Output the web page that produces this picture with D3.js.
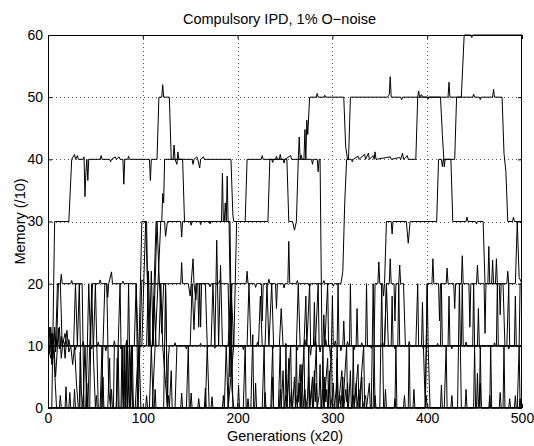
<!DOCTYPE html>
<html><head><meta charset="utf-8">
<script src="https://cdn.jsdelivr.net/npm/d3@7"></script>
<style>
body{margin:0;background:#fff}
svg text{font-family:"Liberation Sans",Arial,Helvetica,sans-serif;fill:#000}
</style></head><body>
<svg id="chart" width="534" height="446"></svg>
<script>
const title = "Compulsory IPD, 1% O\u2212noise";
const xLabel = "Generations (x20)";
const yLabel = "Memory (/10)";
const xTicks = [0,100,200,300,400,500];
const yTicks = [0,10,20,30,40,50,60];

// Each trajectory: flattened vertices [generation, memory, generation, memory, ...]
const trajA = [0,0, 4,0, 7,30, 22,30, 25,40, 28,40.8, 29,40, 31,40.6, 32,40, 37,40, 38,40.4, 39,34, 40,38, 41,40, 42,36.6, 43,40, 55,40, 56,40.6, 57,40, 65,40, 66,39.6, 67,40, 71,40.4, 72,40, 75,40.4, 76,40, 79,40, 80,36, 81,40, 84,40, 85,40.5, 86,40, 107,40, 108,36.6, 109,40, 115,40, 117,50, 120,50, 121,52, 122,50, 128,50, 130,40, 132,40, 133,42.3, 134,40, 136,39.2, 137,41.2, 138,40, 152,40, 153,39.2, 154,40, 157,40.4, 158,40, 160,38.6, 161,40, 164,40.4, 165,40, 193,40, 195,31, 196,30, 208,30, 210,40, 225,40, 226,40.6, 227,40, 236,40, 237,39.5, 238,40, 244,40, 245,40.8, 246,40, 252,40, 254,30, 258,30, 260,28.6, 262,30, 264,40, 265,43.6, 266,40, 270,40, 271,44.8, 272,40, 273,46.3, 274,44, 276,50, 283,50, 284,50.6, 285,50, 291,50, 292,50.3, 293,50, 312,50, 314,42, 316,40, 320,40, 321,39.6, 322,40, 327,40.5, 328,40, 334,40.8, 335,40, 338,41, 339,40, 343,40.6, 344,40, 345,41.2, 346,40, 361,40.4, 362,40, 371,40.3, 372,40, 374,41, 375,40, 379,40.6, 380,40, 388,40, 390,50, 391,51, 392,50, 394,50.4, 395,50, 400,50, 401,49.7, 402,50, 422,50, 423,52.4, 424,50, 436,50, 439,60, 446,60, 447,59.6, 448,60, 500,60];

const trajC = [0,10, 8,10, 10,20, 13,20, 14,21.5, 15,20, 24,20, 25,20.5, 26,20, 36,20, 38,0, 42,0, 44,10, 47,20, 54,20, 55,20.6, 56,20, 62,20, 63,17.8, 64,20, 67,21.9, 68,20, 78,20, 79,20.4, 80,20, 93,20, 95,0, 97,10, 99,20.6, 103,20, 112,20, 118,20, 124,20, 140,20, 141,23.4, 142,20, 148,20, 150,18, 151,20, 153,24, 154,20, 156,17.4, 157,20, 160,20, 161,13, 162,20, 170,20, 171,19.5, 172,20, 180,20, 181,20.5, 182,20, 190,20, 192,5, 194,20, 209,20, 210,22, 211,20, 218,20, 219,19.4, 220,20, 225,20, 226,14, 227,20, 232,20, 233,20.7, 234,20, 240,20, 241,16, 242,20, 248,20, 249,19.3, 250,20, 253,20, 254,26.8, 255,20, 262,20, 263,20.5, 264,20, 275,20, 276,19.5, 277,20, 290,20, 291,20.5, 292,20, 300,20, 301,19.6, 302,20, 309,20, 311,22, 313,33, 315,40, 317,40, 319,50, 358,50, 360,50.4, 361,53.3, 362,50, 372,50, 373,49.6, 374,50, 412,50, 414,50, 416,44, 418,38.8, 419,40, 429,40, 431,50, 448,50, 449,50.5, 450,50, 455,50, 456,49.6, 457,50, 469,50, 470,51.3, 471,50, 479,50, 481,41, 483,38, 485,30, 490,30, 491,30.7, 492,30, 500,30];

const trajD = [0,0, 340,0, 343,0, 345,20, 348,20, 349,23.5, 350,20, 353,20, 354,18, 355,20, 357,30, 362,30, 363,28, 364,30, 378,30, 380,26.5, 382,30, 410,30, 412,40, 415,40, 416,38.8, 417,40, 425,40, 427,30, 441,30, 442,30.7, 443,30, 451,30, 452,29.6, 453,30, 459,30, 461,20, 464,20, 465,26, 466,20, 472,20, 473,24, 474,20, 480,20, 482,10, 500,10];

const trajE = [0,10, 355,10, 357,20, 360,20, 361,24, 362,20, 365,20, 366,14, 367,20, 370,20, 371,23, 372,20, 375,20, 377,10, 396,10, 398,0, 400,20, 405,20, 406,24, 407,20, 412,20, 413,14, 414,20, 420,20, 421,22.5, 422,20, 428,20, 429,16, 430,20, 436,20, 437,24.5, 438,20, 444,20, 445,13, 446,20, 452,20, 453,23, 454,20, 460,20, 461,12, 462,20, 468,20, 469,23.8, 470,20, 476,20, 477,15, 478,20, 484,20, 485,22, 486,20, 493,20, 495,30, 497,21, 500,20];

const trajF = [0,0, 150,0, 190,0, 196,10, 199,30, 232,30, 234,40, 240,40, 241,40.5, 242,40, 248,40, 249,39.4, 250,40, 256,40.6, 257,40, 266,40, 267,40.7, 268,40, 278,40, 279,39.2, 280,40, 284,40, 285,38, 286,40, 287,40, 289,10, 500,10];

const trajH = [0,10, 96,10, 99,30, 104,30, 106,10, 110,10, 114,30, 120,30, 121,34.5, 122,33, 123,40, 142,40, 144,30, 150,30, 151,29.4, 152,30, 160,30, 161,29.5, 162,30, 170,30, 171,29.6, 172,30, 183,30, 184,37.8, 185,30, 188,30, 189,37.3, 190,30, 192,30, 194,3, 196,0, 500,0];

const trajI = [0,0, 110,0, 116,20, 119,30, 123,30, 124,27.6, 126,30, 140,30, 141,27.5, 142,30, 186,30, 187,33, 188,30, 191,30, 193,10, 500,10];

const trajL10 = [0,10, 1,11, 2,9, 3,12, 4,10, 5,8, 6,10.5, 7,13, 8,9, 9,11, 10,10, 11,12.8, 12,9.5, 13,10, 14,11.5, 15,10, 17,10, 18,8, 19,10, 21,10, 22,11, 23,10, 28,10, 29,9.4, 30,10, 36,10, 37,10.7, 38,10, 45,10, 46,9.5, 47,10, 52,10, 53,10.6, 54,10, 60,10, 61,9.2, 62,10, 69,10, 70,10.8, 71,10, 76,10, 77,9.5, 78,10, 82,10, 83,10.9, 84,10, 86,10, 88,4, 90,0, 92,0, 94,6, 96,10, 104,10, 106,22, 108,10, 110,10, 112,18, 114,10, 117,10, 119,20, 121,10, 124,4, 126,0, 127,8, 128,10, 133,10, 134,10.5, 135,10, 145,10, 146,9.5, 147,10, 160,10, 161,10.4, 162,10, 175,10, 176,9.6, 177,10, 190,10, 191,10.5, 192,10, 205,10, 206,9.4, 207,10, 220,10, 221,10.6, 222,10, 236,10, 237,9.5, 238,10, 250,10, 251,10.4, 252,10, 262,10, 263,9.3, 264,10, 270,10, 271,11, 272,10, 276,10, 277,8.5, 278,10, 281,10, 282,11.5, 283,10, 286,10, 287,9, 288,10, 292,10, 293,11, 294,10, 297,10, 298,8, 299,10, 302,10, 303,10.8, 304,10, 308,10, 309,9.2, 310,10, 315,10, 316,10.7, 317,10, 322,10, 323,9.4, 324,10, 330,10, 331,10.5, 332,10, 340,10, 341,9.6, 342,10, 352,10, 353,10.6, 354,10, 365,10, 366,9.5, 367,10, 380,10, 381,10.7, 382,10, 395,10, 396,9.5, 397,10, 410,10, 411,10.4, 412,10, 425,10, 426,9.5, 427,10, 440,10, 441,10.6, 442,10, 455,10, 456,9.6, 457,10, 470,10, 471,10.5, 472,10, 485,10, 486,9.5, 487,10, 500,10];

const trajN1 = [0,10, 3,8, 5,12, 7,6, 9,0, 12,0, 13,2, 14,0, 18,0, 19,3.4, 20,0, 22,0, 23,2.5, 24,0, 27,0, 28,3, 29,0, 33,0, 34,9, 35,0, 40,0, 41,4, 42,0, 50,0, 51,2, 52,0, 57,0, 58,5, 59,0, 66,0, 67,3, 68,0, 72,0, 73,8, 74,0, 78,0, 79,10, 80,0, 81,6, 82,0, 83,10.9, 84,0, 85,4, 86,0, 88,10, 89,0, 95,0, 103,0, 104,2, 105,0, 112,0, 113,3, 114,0, 126,0, 127,2, 128,0, 130,6, 131,0, 140,0, 141,2.4, 142,0, 150,0, 151,2.4, 152,0, 158,0, 159,1.5, 160,0, 165,0, 166,3.2, 167,0, 172,0, 173,1.8, 174,0, 184,0, 185,2, 186,0, 200,0, 201,3.7, 202,0, 210,0, 211,1.5, 212,0, 218,0, 219,4, 220,0, 228,0, 229,2.5, 230,0, 236,0, 237,5, 238,0, 244,0, 245,3, 246,0, 248,6, 249,0, 251,2, 252,0, 254,8, 255,0, 257,3, 258,0, 260,5, 261,0, 263,2, 264,1, 265,4, 266,0, 268,7, 269,0, 271,3, 272,0, 274,2, 275,5, 276,0, 278,3, 279,0, 281,6, 282,1, 283,4, 284,0, 286,2, 287,7, 288,0, 290,3, 291,0, 292,5, 293,1, 294,3, 295,0, 297,6, 298,0, 300,2, 301,4, 302,0, 304,3, 305,8, 306,0, 308,2, 309,0, 311,5, 312,0, 314,3, 315,1, 316,4, 317,0, 319,6, 320,0, 322,2, 323,0, 325,4, 326,0, 328,3, 329,0, 331,5, 332,0, 335,2, 336,0, 339,4, 340,0, 344,0, 345,2, 346,0, 355,0, 356,3, 357,0, 365,0, 366,1.5, 367,0, 375,0, 376,2, 377,0, 385,0, 386,3, 387,0, 398,0, 399,2, 400,0, 414,0, 415,3.7, 416,0, 425,0, 426,2, 427,0, 440,0, 441,3, 442,0, 452,0, 453,5.6, 454,0, 456,4, 457,0, 465,0, 466,2, 467,0, 476,0, 477,2.5, 478,0, 486,0, 487,1.5, 488,0, 492,0, 493,2, 494,0, 497,0, 498,1.5, 499,0, 500,0];

const trajN2 = [0,10, 2,13, 4,7, 6,11, 8,5, 10,10, 12,13, 14,8, 16,11, 18,10, 20,12.5, 22,9, 24,10, 26,7, 28,10, 30,4, 32,0, 37,0, 39,10, 41,0, 44,0, 46,20, 48,8, 50,0, 55,0, 57,10, 58,0, 63,0, 65,8, 66,0, 72,0, 74,10, 75,0, 77,0, 78,10, 79,2, 80,0, 81,10, 82,0, 84,10, 85,3, 86,10, 87,0, 89,10, 90,0, 94,0, 96,10, 98,0, 107,0, 109,10, 111,0, 122,0, 124,20, 126,0, 146,0, 148,10, 149,0, 166,0, 168,10, 170,0, 186,0, 188,10, 190,0, 193,20, 195,0, 206,0, 208,10, 209,0, 214,0, 216,11.8, 217,0, 226,0, 228,10, 229,0, 235,0, 237,10, 238,0, 243,0, 245,10, 246,0, 250,0, 251,10, 252,0, 256,10, 257,0, 261,0, 262,10, 263,0, 266,7, 267,0, 270,10, 271,0, 274,0, 275,10, 276,0, 279,5, 280,0, 283,10, 284,0, 289,0, 290,10, 291,0, 295,8, 296,0, 299,10, 300,0, 304,0, 305,10, 306,0, 310,6, 311,0, 315,10, 316,0, 321,0, 322,10, 323,0, 327,7, 328,0, 333,10, 334,0, 341,0, 343,20, 345,0, 350,0, 352,20, 354,0, 366,0, 367,10, 368,0, 380,0, 381,10, 382,0, 398,0, 400,20, 401,10, 403,0, 418,0, 420,10, 421,0, 432,0, 434,20, 436,0, 449,0, 450,10, 451,0, 455,0, 456,10, 457,0, 466,0, 467,10, 468,0, 480,0, 481,10, 482,0, 495,0, 497,10, 498,0, 500,0];

const trajN3 = [0,10, 3,13, 5,9, 7,12, 9,10, 11,20, 13,20, 15,10, 18,12, 20,10, 27,10, 29,20, 31,10, 33,20, 35,3, 37,0, 40,0, 43,20, 45,10, 48,10, 50,20, 53,0, 56,0, 60,20, 62,20, 64,3, 66,0, 69,0, 70,10, 74,10, 76,20, 77,10, 84,10, 85,20, 86,10, 91,10, 93,20, 95,10, 99,10, 101,20, 103,30, 105,20, 107,10, 109,22, 111,10, 113,20, 115,30, 117,22, 120,12, 122,20, 124,20, 126,0, 134,0, 136,10, 150,10, 152,20, 154,12.6, 156,20, 158,20, 159,13, 160,20, 166,20, 168,10, 172,10, 174,20, 176,10, 178,27, 180,10, 182,23, 184,10, 190,10, 193,20, 196,10, 210,10, 212,20, 214,10, 222,10, 224,18, 226,10, 229,10, 231,20, 233,10, 236,20, 238,10, 244,10, 246,16, 248,10, 262,10, 264,20, 266,10, 270,10, 272,18, 273,10, 276,20, 277,10, 280,10, 281,17, 282,10, 285,20, 286,10, 290,10, 291,15, 292,10, 295,20, 296,10, 299,10, 300,18, 301,10, 305,10, 306,20, 307,10, 311,10, 312,14, 313,10, 318,10, 319,20, 320,10, 325,10, 326,16, 327,10, 335,10, 336,20, 337,10, 355,10, 357,20, 359,10, 362,10, 363,18, 364,10, 369,10, 370,20, 371,10, 388,10, 390,20, 391,10, 394,10, 395,17, 396,10, 414,10, 415,20, 416,10, 422,10, 423,18, 424,10, 436,10, 437,20, 438,10, 448,10, 449,20, 450,10, 453,10, 454,16, 455,10, 473,10, 474,20, 475,10, 484,10, 486,20, 487,10, 492,10, 493,18, 494,10, 497,10, 498,20, 500,20];

const trajectories = [trajN1, trajN2, trajN3, trajL10, trajI, trajH, trajF, trajE, trajD, trajC, trajA];

const svg = d3.select("#chart");
const pL = 48, pR = 522, pT = 35, pB = 408;
const x = d3.scaleLinear().domain([0, 500]).range([pL, pR]);
const y = d3.scaleLinear().domain([0, 60]).range([pB, pT]);

// dotted grid
const grid = svg.append("g").attr("stroke", "#555").attr("stroke-width", 1).attr("stroke-dasharray", "1,3");
grid.selectAll("line.gx").data(xTicks.slice(1, -1)).join("line").attr("class", "gx")
  .attr("x1", d => Math.round(x(d)) + 0.5).attr("x2", d => Math.round(x(d)) + 0.5)
  .attr("y1", pT).attr("y2", pB);
grid.selectAll("line.gy").data(yTicks.slice(1, -1)).join("line").attr("class", "gy")
  .attr("y1", d => Math.round(y(d)) + 0.5).attr("y2", d => Math.round(y(d)) + 0.5)
  .attr("x1", pL).attr("x2", pR);

// trajectories
svg.append("clipPath").attr("id", "plotclip").append("rect")
  .attr("x", pL).attr("y", pT - 1).attr("width", pR - pL).attr("height", pB - pT + 2);
const toPoints = arr => d3.range(0, arr.length, 2).map(i => [arr[i], arr[i + 1]]);
const line = d3.line().x(d => x(d[0])).y(d => y(d[1]));
svg.append("g").attr("clip-path", "url(#plotclip)")
  .selectAll("path").data(trajectories).join("path")
  .attr("d", d => line(toPoints(d)))
  .attr("fill", "none").attr("stroke", "#000").attr("stroke-width", 1);

// axes with inward ticks on all four sides
const fs = "14px";
const axB = svg.append("g").attr("transform", `translate(0,${pB})`)
  .call(d3.axisBottom(x).tickValues(xTicks).tickSizeInner(-4).tickSizeOuter(0).tickPadding(5.5));
const axT = svg.append("g").attr("transform", `translate(0,${pT})`)
  .call(d3.axisTop(x).tickValues(xTicks).tickSizeInner(-4).tickSizeOuter(0).tickFormat(""));
const axL = svg.append("g").attr("transform", `translate(${pL},0)`)
  .call(d3.axisLeft(y).tickValues(yTicks).tickSizeInner(-4).tickSizeOuter(0).tickPadding(5));
const axR = svg.append("g").attr("transform", `translate(${pR},0)`)
  .call(d3.axisRight(y).tickValues(yTicks).tickSizeInner(-4).tickSizeOuter(0).tickFormat(""));
[axB, axT, axL, axR].forEach(g => {
  g.select(".domain").remove();
  g.selectAll("line").attr("stroke", "#000");
  g.selectAll("text").attr("font-size", fs).attr("font-family", '"Liberation Sans",Arial,sans-serif');
});

// frame
svg.append("rect").attr("x", pL + 0.5).attr("y", pT + 0.5)
  .attr("width", pR - pL - 1).attr("height", pB - pT - 1)
  .attr("fill", "none").attr("stroke", "#000").attr("stroke-width", 1);

svg.append("text").attr("x", 279.5).attr("y", 24).attr("text-anchor", "middle")
  .attr("font-size", "14.5px").text(title);
svg.append("text").attr("x", (pL + pR) / 2).attr("y", 441).attr("text-anchor", "middle")
  .attr("font-size", "14.5px").text(xLabel);
svg.append("text").attr("transform", `translate(24.5,${(pT + pB) / 2}) rotate(-90)`)
  .attr("text-anchor", "middle").attr("font-size", "14.5px").text(yLabel);
</script>
</body></html>
